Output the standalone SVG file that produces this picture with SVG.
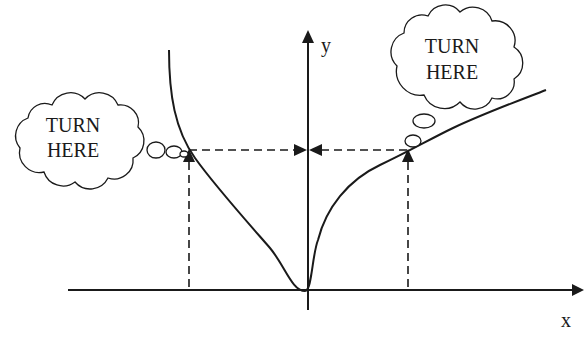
<svg xmlns="http://www.w3.org/2000/svg" width="584" height="339" viewBox="0 0 584 339">
<style>
.ax{stroke:#1a1a1a;stroke-width:2;fill:none}
.cv{stroke:#1a1a1a;stroke-width:2;fill:none}
.da{stroke:#1a1a1a;stroke-width:1.6;fill:none;stroke-dasharray:8 5}
.cl{stroke:#1a1a1a;stroke-width:1.3;fill:#fff}
.ah{fill:#1a1a1a}
text{font-family:"Liberation Serif","Times New Roman",serif;fill:#1a1a1a}
.t{font-size:20px;text-anchor:middle}
.l{font-size:20px}
</style>
<g id="axes">
<line class="ax" x1="68" y1="290" x2="573" y2="290"/>
<polygon class="ah" points="584,290 572,284 572,296"/>
<line class="ax" x1="308" y1="42" x2="308" y2="310"/>
<polygon class="ah" points="308,30 302,43 314,43"/>
<text class="l" x="321" y="52">y</text>
<text class="l" x="561" y="327">x</text>
</g>
<g id="curves">
<path class="cv" d="M169,50 C169,95 175,130 195,158 C215,186 250,225 270,248 C285,266 292,291 305,291 C312,291 312,255 318,240 C326,208 348,180 380,165 C410,151 430,139 453,128 C485,113 515,102 546,90"/>
</g>
<g id="connectors">
<line class="da" x1="189" y1="162" x2="189" y2="290"/>
<polygon class="ah" points="189,149 183,162 195,162"/>
<line class="da" x1="408" y1="162" x2="408" y2="290"/>
<polygon class="ah" points="408,149 402,162 414,162"/>
<line class="da" x1="189" y1="150" x2="295" y2="150"/>
<polygon class="ah" points="307,150 294,144 294,156"/>
<line class="da" x1="321" y1="150" x2="408" y2="150"/>
<polygon class="ah" points="309,150 322,144 322,156"/>
</g>
<g id="cloud-left">
<path class="cl" d="M20,148 A19,19 0 0 1 28,118 A17,17 0 0 1 52,105 A20,20 0 0 1 85,99 A20,20 0 0 1 118,105 A18,18 0 0 1 138,127 A19,19 0 0 1 133,158 A19,19 0 0 1 108,178 A20,20 0 0 1 75,182 A20,20 0 0 1 44,172 A20,20 0 0 1 20,148 Z"/>
<ellipse class="cl" cx="156" cy="150" rx="9" ry="8"/>
<ellipse class="cl" cx="174" cy="152" rx="8" ry="6"/>
<ellipse class="cl" cx="184" cy="154" rx="4" ry="3"/>
<text class="t" x="73" y="132">TURN</text>
<text class="t" x="73" y="157">HERE</text>
</g>
<g id="cloud-right">
<path class="cl" d="M397,66 A20,20 0 0 1 404,33 A18,18 0 0 1 428,16 A19,19 0 0 1 460,12 A20,20 0 0 1 492,21 A20,20 0 0 1 514,47 A19,19 0 0 1 514,79 A17,17 0 0 1 492,98 A19,19 0 0 1 460,102 A22,22 0 0 1 424,95 A24,24 0 0 1 397,66 Z"/>
<ellipse class="cl" cx="424" cy="121" rx="11" ry="7"/>
<ellipse class="cl" cx="413" cy="141" rx="8" ry="6"/>
<text class="t" x="452" y="53">TURN</text>
<text class="t" x="452" y="79">HERE</text>
</g>
</svg>
